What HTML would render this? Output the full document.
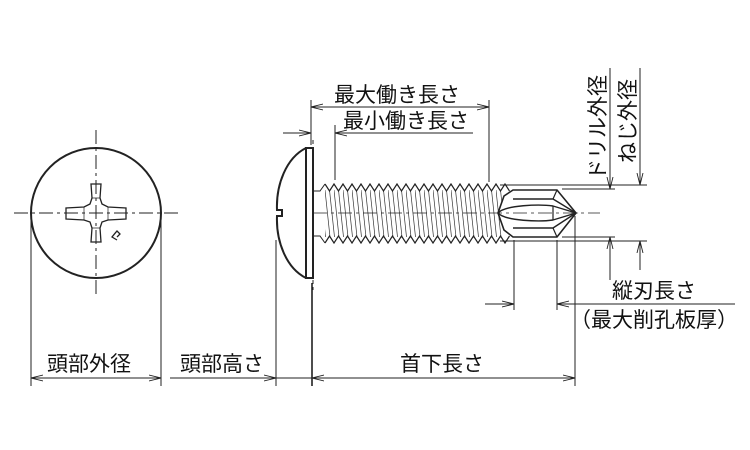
<!DOCTYPE html>
<html><head><meta charset="utf-8"><style>
body{margin:0;background:#fff;}
svg{display:block}
text{font-family:"Liberation Sans","Noto Sans CJK JP",sans-serif;font-size:21px;fill:#111}
</style></head><body>
<svg width="750" height="450" viewBox="0 0 750 450" xmlns="http://www.w3.org/2000/svg">
<defs>
<marker id="a" markerWidth="12" markerHeight="8" refX="12" refY="4" orient="auto-start-reverse" markerUnits="userSpaceOnUse">
<path d="M0,1 L12,4 L0,7" fill="none" stroke="#222" stroke-width="0.9"/>
</marker>
<pattern id="th" x="325" y="190" width="9" height="47" patternUnits="userSpaceOnUse">
<path d="M0,0 L5,47 M4.5,0 L9.5,47 M-4.5,0 L0.5,47" stroke="#333" stroke-width="0.7" fill="none"/>
</pattern>
</defs>
<g stroke="#222" fill="none" stroke-width="1">
<!-- circle view -->
<circle cx="96" cy="213" r="65" stroke-width="2"/>
<line x1="96" y1="130" x2="96" y2="297" stroke-dasharray="14,4,3,4"/>
<line x1="14" y1="213" x2="178" y2="213" stroke-dasharray="14,4,3,4"/>
<path d="M91,184 L101,184 L100,198 L102,204 L108,207 L126,208 L126,219 L108,220 L102,222 L100,228 L101,242 L91,242 L92,228 L90,222 L84,220 L66,219 L66,208 L84,207 L90,204 L92,198 Z" stroke-width="1.3"/>
<path d="M92,198 L100,198 M92,228 L100,228 M84,207 L84,220 M108,207 L108,220" stroke-width="0.7"/>
<path d="M116,232 l-4,5 l5,3 M112,237 l5,-6 l3,3 l-3,3" stroke-width="1.3"/>
<!-- head side -->
<path d="M306,148 C286,158 276,185 277,210 L282,210 L282,216 L277,216 C276,241 286,268 306,278" stroke-width="2"/>
<rect x="306" y="148" width="7" height="130" stroke-width="2"/>
<line x1="313" y1="140" x2="313" y2="147" stroke-dasharray="4,3"/>
<line x1="313" y1="280" x2="313" y2="290" stroke-dasharray="4,3"/>
<!-- shank -->
<path d="M313,191 L320,191 L325,184" />
<path d="M313,236 L320,236 L325,243" />
<rect x="325" y="190" width="178" height="47" fill="url(#th)" stroke="none"/>
<path d="M325,184 l4.5,7 l4.5,-7 l4.5,7 l4.5,-7 l4.5,7 l4.5,-7 l4.5,7 l4.5,-7 l4.5,7 l4.5,-7 l4.5,7 l4.5,-7 l4.5,7 l4.5,-7 l4.5,7 l4.5,-7 l4.5,7 l4.5,-7 l4.5,7 l4.5,-7 l4.5,7 l4.5,-7 l4.5,7 l4.5,-7 l4.5,7 l4.5,-7 l4.5,7 l4.5,-7 l4.5,7 l4.5,-7 l4.5,7 l4.5,-7 l4.5,7 l4.5,-7 l4.5,7 l4.5,-7 l4.5,7 l4.5,-7 l4.5,7 l4.5,-7 l4.5,7" stroke-width="1.2"/>
<path d="M325,243 l4.5,-7 l4.5,7 l4.5,-7 l4.5,7 l4.5,-7 l4.5,7 l4.5,-7 l4.5,7 l4.5,-7 l4.5,7 l4.5,-7 l4.5,7 l4.5,-7 l4.5,7 l4.5,-7 l4.5,7 l4.5,-7 l4.5,7 l4.5,-7 l4.5,7 l4.5,-7 l4.5,7 l4.5,-7 l4.5,7 l4.5,-7 l4.5,7 l4.5,-7 l4.5,7 l4.5,-7 l4.5,7 l4.5,-7 l4.5,7 l4.5,-7 l4.5,7 l4.5,-7 l4.5,7 l4.5,-7 l4.5,7 l4.5,-7 l4.5,7 l4.5,-7" stroke-width="1.2"/>
<!-- drill -->
<path d="M513,190 L557,190 L576,213 L557,237 L513,237 L504,230 L498,213 L504,196 Z" fill="#fff" stroke-width="1.6"/>
<path d="M513,199 L553,199 L576,213 L553,228 L513,228" stroke-width="1.4"/>
<path d="M498,213 C505,205 540,204 553,206 L576,213 L553,220 C540,222 505,221 498,213 Z" stroke-width="1.4"/>
<path d="M557,190 L553,199 M557,237 L553,228 M553,206 L553,220" stroke-width="1.2"/>
<line x1="313" y1="213" x2="600" y2="213" stroke-dasharray="14,4,3,4" stroke-width="0.8"/>
<!-- top dims -->
<line x1="311" y1="100" x2="311" y2="145"/>
<line x1="489" y1="100" x2="489" y2="182"/>
<line x1="335" y1="125" x2="335" y2="180"/>
<line x1="311" y1="107" x2="489" y2="107" marker-start="url(#a)" marker-end="url(#a)"/>
<line x1="283" y1="133" x2="311" y2="133" marker-end="url(#a)"/>
<line x1="335" y1="133" x2="473" y2="133" marker-start="url(#a)"/>
<!-- right dims -->
<line x1="500" y1="185" x2="647" y2="185"/>
<line x1="500" y1="241" x2="647" y2="241"/>
<line x1="562" y1="189" x2="615" y2="189"/>
<line x1="562" y1="237" x2="615" y2="237"/>
<line x1="610" y1="68" x2="610" y2="189" marker-end="url(#a)"/>
<line x1="610" y1="280" x2="610" y2="237" marker-end="url(#a)"/>
<line x1="640" y1="68" x2="640" y2="185" marker-end="url(#a)"/>
<line x1="640" y1="270" x2="640" y2="241" marker-end="url(#a)"/>
<!-- cutting length -->
<line x1="514" y1="240" x2="514" y2="310"/>
<line x1="557" y1="240" x2="557" y2="310"/>
<line x1="485" y1="304" x2="514" y2="304" marker-end="url(#a)"/>
<line x1="735" y1="304" x2="557" y2="304" marker-end="url(#a)"/>
<!-- bottom dims -->
<line x1="31" y1="215" x2="31" y2="386"/>
<line x1="161" y1="215" x2="161" y2="386"/>
<line x1="276" y1="240" x2="276" y2="386"/>
<line x1="312" y1="283" x2="312" y2="386" stroke-width="1.6"/>
<line x1="575" y1="216" x2="575" y2="386"/>
<line x1="31" y1="378" x2="161" y2="378" marker-start="url(#a)" marker-end="url(#a)"/>
<line x1="170" y1="378" x2="276" y2="378" marker-end="url(#a)"/>
<line x1="276" y1="378" x2="312" y2="378"/>
<line x1="312" y1="378" x2="575" y2="378" marker-start="url(#a)" marker-end="url(#a)"/>
</g>
<text x="334" y="102">最大働き長さ</text>
<text x="343" y="128">最小働き長さ</text>
<text x="47" y="371">頭部外径</text>
<text x="180" y="371">頭部高さ</text>
<text x="400" y="371">首下長さ</text>
<text x="612" y="298">縦刃長さ</text>
<text x="570" y="327">（最大削孔板厚）</text>
<text transform="translate(605,180) rotate(-90)">ドリル外径</text>
<text transform="translate(635,163) rotate(-90)">ねじ外径</text>
</svg>
</body></html>
